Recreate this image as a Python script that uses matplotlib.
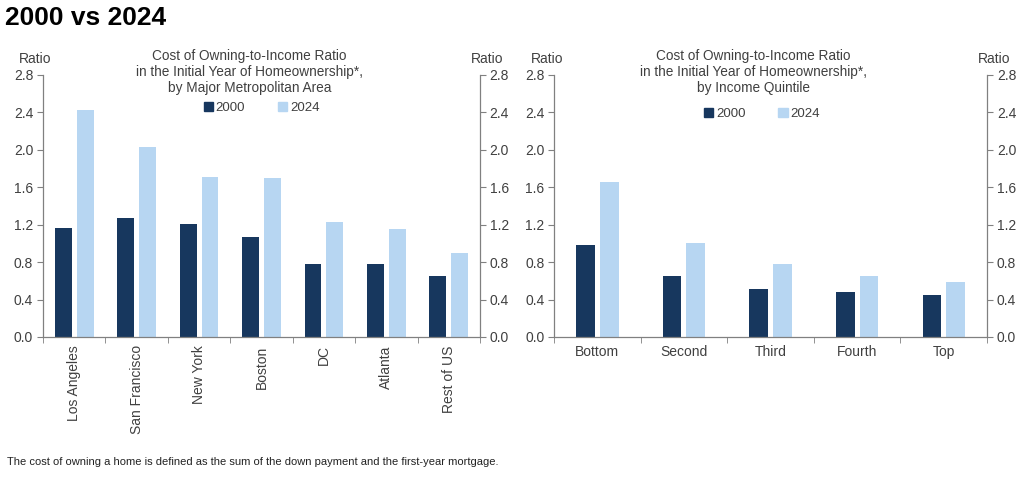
import numpy as np
import matplotlib
matplotlib.use("Agg")
import matplotlib.pyplot as plt
from matplotlib.patches import Patch

plt.rcParams['font.family'] = ['Liberation Sans', 'DejaVu Sans']

# data
metros = ['Los Angeles', 'San Francisco', 'New York', 'Boston', 'DC', 'Atlanta', 'Rest of US']
metro_2000 = [1.16, 1.27, 1.21, 1.07, 0.78, 0.78, 0.65]
metro_2024 = [2.43, 2.03, 1.71, 1.70, 1.23, 1.15, 0.90]

quintiles = ['Bottom', 'Second', 'Third', 'Fourth', 'Top']
quint_2000 = [0.98, 0.65, 0.51, 0.48, 0.45]
quint_2024 = [1.66, 1.00, 0.78, 0.65, 0.59]

yticks = [0.0, 0.4, 0.8, 1.2, 1.6, 2.0, 2.4, 2.8]
c2000 = '#17375e'
c2024 = '#b7d6f2'
spine_col = '#808080'
txt_col = '#404040'

fig = plt.figure(figsize=(10.3, 4.8), dpi=100)
fig.text(0.005, 1 - 6 / 480, '2000 vs 2024', fontsize=19, fontweight='bold', ha='left', va='top')
fig.text(0.007, 0.0375, 'The cost of owning a home is defined as the sum of the down payment and the first-year mortgage.',
         fontsize=8, ha='left', va='center', color='#222222')


def panel(rect, cats, v0, v1, width, gap, title, title_x, leg_x, leg_y, rot):
    ax = fig.add_axes(rect)
    x = np.arange(len(cats))
    ax.bar(x - width / 2 - gap / 2, v0, width, color=c2000)
    ax.bar(x + width / 2 + gap / 2, v1, width, color=c2024)
    ax.set_xlim(-0.5, len(cats) - 0.5)
    ax.set_ylim(0, 2.8)
    ax.set_yticks(yticks)
    ax.set_yticklabels(['%.1f' % t for t in yticks])
    ax.spines['top'].set_visible(False)
    for s in ['left', 'right', 'bottom']:
        ax.spines[s].set_color(spine_col)
        ax.spines[s].set_linewidth(0.9)
    ax.tick_params(axis='y', which='both', left=True, right=True, labelleft=True, labelright=True,
                   color=spine_col, length=4, labelsize=10, labelcolor=txt_col, pad=3)
    ax.set_xticks(x)
    ax.set_xticklabels(cats, rotation=rot, fontsize=10, color=txt_col,
                       va='top', ha='center')
    # category boundary ticks
    ax.set_xticks(np.arange(len(cats) + 1) - 0.5, minor=True)
    ax.tick_params(axis='x', which='major', length=0, pad=6)
    ax.tick_params(axis='x', which='minor', length=4, color=spine_col)
    ax.text(title_x, 1.099, title, transform=ax.transAxes, ha='center', va='top',
            fontsize=9.8, color=txt_col, linespacing=1.17)
    ax.text(-0.017, 1.035, 'Ratio', transform=ax.transAxes, ha='center', va='bottom', fontsize=10, color=txt_col)
    ax.text(1.017, 1.035, 'Ratio', transform=ax.transAxes, ha='center', va='bottom', fontsize=10, color=txt_col)
    handles = [Patch(color=c2000, label='2000'), Patch(color=c2024, label='2024')]
    ax.legend(handles=handles, loc='center', bbox_to_anchor=(leg_x, leg_y), ncol=2, frameon=False,
              fontsize=9.5, handlelength=0.7, handleheight=0.7, handletextpad=0.2, columnspacing=2.5,
              labelcolor=txt_col)
    return ax


panel([0.0417, 0.298, 0.4243, 0.546], metros, metro_2000, metro_2024, 0.27, 0.08,
      'Cost of Owning-to-Income Ratio\nin the Initial Year of Homeownership*,\nby Major Metropolitan Area',
      0.473, 0.5, 0.874, 90)
panel([0.5379, 0.298, 0.4204, 0.546], quintiles, quint_2000, quint_2024, 0.216, 0.057,
      'Cost of Owning-to-Income Ratio\nin the Initial Year of Homeownership*,\nby Income Quintile',
      0.46, 0.48, 0.851, 0)

fig.savefig('out.png', dpi=100)
